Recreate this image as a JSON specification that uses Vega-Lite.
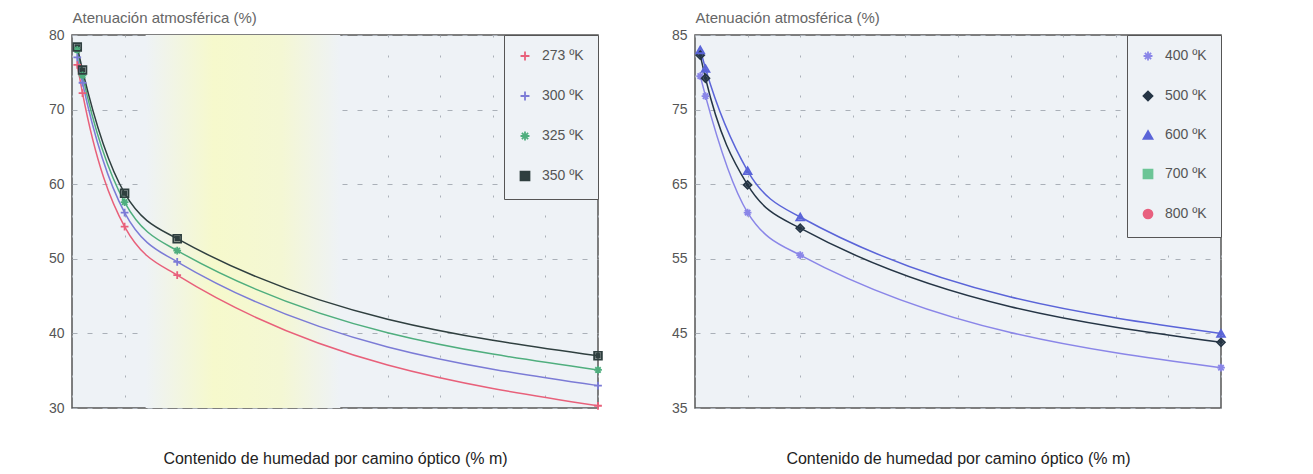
{
  "$schema": "https://vega.github.io/schema/vega-lite/v6.json",
  "background": "#ffffff",
  "padding": {"left": 47, "top": 9, "right": 5, "bottom": 5},
  "config": {
    "font": "Liberation Sans",
    "view": {"stroke": "#555555", "strokeWidth": 1.5, "fill": "#eef2f6"},
    "axis": {
      "labelFont": "Liberation Sans",
      "titleFont": "Liberation Sans",
      "labelColor": "#555555",
      "labelFontSize": 14,
      "ticks": false,
      "domain": false,
      "gridColor": "#aab0b8",
      "gridWidth": 1
    },
    "legend": {
      "orient": "top-right",
      "offset": 0,
      "padding": 14,
      "rowPadding": 22,
      "labelOffset": 10,
      "strokeColor": "#555555",
      "fillColor": "#eef2f6",
      "labelFont": "Liberation Sans",
      "labelFontSize": 14,
      "labelColor": "#555555",
      "symbolSize": 80,
      "symbolStrokeWidth": 1.8,
      "title": null
    }
  },
  "datasets": {
    "left": [
      {"x": 0.1, "y": 76.0, "serie": "273 ºK"},
      {"x": 0.2, "y": 72.2, "serie": "273 ºK"},
      {"x": 1, "y": 54.3, "serie": "273 ºK"},
      {"x": 2, "y": 47.8, "serie": "273 ºK"},
      {"x": 10, "y": 30.3, "serie": "273 ºK"},
      {"x": 0.1, "y": 77.0, "serie": "300 ºK"},
      {"x": 0.2, "y": 73.6, "serie": "300 ºK"},
      {"x": 1, "y": 56.2, "serie": "300 ºK"},
      {"x": 2, "y": 49.6, "serie": "300 ºK"},
      {"x": 10, "y": 33.0, "serie": "300 ºK"},
      {"x": 0.1, "y": 78.0, "serie": "325 ºK"},
      {"x": 0.2, "y": 74.6, "serie": "325 ºK"},
      {"x": 1, "y": 57.6, "serie": "325 ºK"},
      {"x": 2, "y": 51.1, "serie": "325 ºK"},
      {"x": 10, "y": 35.1, "serie": "325 ºK"},
      {"x": 0.1, "y": 78.4, "serie": "350 ºK"},
      {"x": 0.2, "y": 75.3, "serie": "350 ºK"},
      {"x": 1, "y": 58.8, "serie": "350 ºK"},
      {"x": 2, "y": 52.7, "serie": "350 ºK"},
      {"x": 10, "y": 37.0, "serie": "350 ºK"}
    ],
    "right": [
      {"x": 0.1, "y": 79.5, "serie": "400 ºK"},
      {"x": 0.2, "y": 76.8, "serie": "400 ºK"},
      {"x": 1, "y": 61.2, "serie": "400 ºK"},
      {"x": 2, "y": 55.5, "serie": "400 ºK"},
      {"x": 10, "y": 40.4, "serie": "400 ºK"},
      {"x": 0.1, "y": 82.3, "serie": "500 ºK"},
      {"x": 0.2, "y": 79.2, "serie": "500 ºK"},
      {"x": 1, "y": 64.9, "serie": "500 ºK"},
      {"x": 2, "y": 59.1, "serie": "500 ºK"},
      {"x": 10, "y": 43.8, "serie": "500 ºK"},
      {"x": 0.1, "y": 83.0, "serie": "600 ºK"},
      {"x": 0.2, "y": 80.5, "serie": "600 ºK"},
      {"x": 1, "y": 66.8, "serie": "600 ºK"},
      {"x": 2, "y": 60.6, "serie": "600 ºK"},
      {"x": 10, "y": 45.0, "serie": "600 ºK"}
    ],
    "band": [{"x": 1.4, "x2": 5.1, "y": 30, "y2": 80}]
  },
  "resolve": {
    "scale": {"x": "independent", "y": "independent", "color": "independent", "shape": "independent"},
    "legend": {"color": "independent", "shape": "independent"}
  },
  "spacing": 63,
  "hconcat": [
    {
      "width": 526,
      "height": 373,
      "layer": [
        {
          "data": {"name": "band"},
          "mark": {
            "type": "rect",
            "fill": {
              "gradient": "linear",
              "x1": 0, "x2": 1, "y1": 0, "y2": 0,
              "stops": [
                {"offset": 0, "color": "#eef2f6"},
                {"offset": 0.35, "color": "#f6f9cc"},
                {"offset": 0.7, "color": "#f4f7d4"},
                {"offset": 1, "color": "#eef2f6"}
              ]
            }
          },
          "encoding": {
            "x": {"field": "x", "type": "quantitative", "scale": {"domain": [0, 10], "nice": false}},
            "x2": {"field": "x2"},
            "y": {"field": "y", "type": "quantitative", "scale": {"domain": [30, 80], "nice": false}},
            "y2": {"field": "y2"}
          }
        },
        {
          "data": {"name": "left"},
          "mark": {"type": "line", "interpolate": "monotone", "strokeWidth": 1.5},
          "encoding": {
            "x": {
              "field": "x", "type": "quantitative",
              "scale": {"domain": [0, 10], "nice": false},
              "axis": {
                "values": [0, 1, 2, 3, 4, 5, 6, 7, 8, 9, 10],
                "labels": false,
                "grid": true,
                "gridDash": [2, 18],
                "title": "Contenido de humedad por camino óptico (% m)",
                "titleFontSize": 16,
                "titleFontWeight": "normal",
                "titleColor": "#222222",
                "titlePadding": 42
              }
            },
            "y": {
              "field": "y", "type": "quantitative",
              "scale": {"domain": [30, 80], "nice": false},
              "axis": {
                "values": [30, 40, 50, 60, 70, 80],
                "labelPadding": 8,
                "grid": true,
                "gridDash": [5, 10],
                "title": "Atenuación atmosférica (%)",
                "titleAngle": 0,
                "titleAlign": "left",
                "titleBaseline": "alphabetic",
                "titleX": 0,
                "titleY": -13,
                "titleFontSize": 15,
                "titleFontWeight": "normal",
                "titleColor": "#666666"
              }
            },
            "color": {
              "field": "serie", "type": "nominal",
              "scale": {"domain": ["273 ºK", "300 ºK", "325 ºK", "350 ºK"], "range": ["#e8607a", "#7b7bd6", "#4fae7e", "#2f3f3f"]}
            },
            "shape": {
              "field": "serie", "type": "nominal",
              "scale": {"domain": ["273 ºK", "300 ºK", "325 ºK", "350 ºK"], "range": ["M-1,0H1M0,-1V1", "M-1,0H1M0,-1V1", "M-1,0H1M0,-1V1M-0.7,-0.7L0.7,0.7M-0.7,0.7L0.7,-0.7", "square"]}
            }
          }
        },
        {
          "data": {"name": "left"},
          "mark": {"type": "point", "filled": false, "strokeWidth": 1.8, "size": 60, "opacity": 1},
          "encoding": {
            "x": {"field": "x", "type": "quantitative"},
            "y": {"field": "y", "type": "quantitative"},
            "color": {"field": "serie", "type": "nominal"},
            "shape": {"field": "serie", "type": "nominal"}
          }
        }
      ]
    },
    {
      "width": 526,
      "height": 373,
      "layer": [
        {
          "data": {"name": "right"},
          "mark": {"type": "line", "interpolate": "monotone", "strokeWidth": 1.5},
          "encoding": {
            "x": {
              "field": "x", "type": "quantitative",
              "scale": {"domain": [0, 10], "nice": false},
              "axis": {
                "values": [0, 1, 2, 3, 4, 5, 6, 7, 8, 9, 10],
                "labels": false,
                "grid": true,
                "gridDash": [2, 18],
                "title": "Contenido de humedad por camino óptico (% m)",
                "titleFontSize": 16,
                "titleFontWeight": "normal",
                "titleColor": "#222222",
                "titlePadding": 42
              }
            },
            "y": {
              "field": "y", "type": "quantitative",
              "scale": {"domain": [35, 85], "nice": false},
              "axis": {
                "values": [35, 45, 55, 65, 75, 85],
                "labelPadding": 8,
                "grid": true,
                "gridDash": [5, 10],
                "title": "Atenuación atmosférica (%)",
                "titleAngle": 0,
                "titleAlign": "left",
                "titleBaseline": "alphabetic",
                "titleX": 0,
                "titleY": -13,
                "titleFontSize": 15,
                "titleFontWeight": "normal",
                "titleColor": "#666666"
              }
            },
            "color": {
              "field": "serie", "type": "nominal",
              "scale": {"domain": ["400 ºK", "500 ºK", "600 ºK", "700 ºK", "800 ºK"], "range": ["#8a86e8", "#253545", "#5a64d8", "#6cc596", "#e8607e"]}
            },
            "shape": {
              "field": "serie", "type": "nominal",
              "scale": {"domain": ["400 ºK", "500 ºK", "600 ºK", "700 ºK", "800 ºK"], "range": ["M-1,0H1M0,-1V1M-0.7,-0.7L0.7,0.7M-0.7,0.7L0.7,-0.7", "diamond", "triangle-up", "M-1,-1H1V1H-1ZM-1,-1L1,1M-1,1L1,-1", "circle"]}
            }
          }
        },
        {
          "data": {"name": "right"},
          "mark": {"type": "point", "filled": false, "strokeWidth": 1.8, "size": 60, "opacity": 1},
          "encoding": {
            "x": {"field": "x", "type": "quantitative"},
            "y": {"field": "y", "type": "quantitative"},
            "color": {"field": "serie", "type": "nominal"},
            "shape": {"field": "serie", "type": "nominal"}
          }
        }
      ]
    }
  ]
}
